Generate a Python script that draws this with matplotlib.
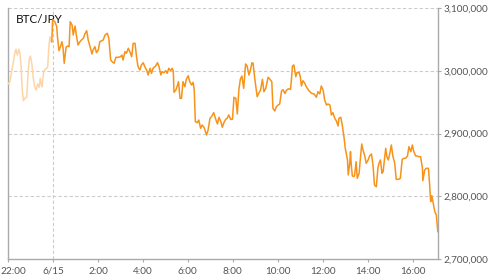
import matplotlib
matplotlib.use("Agg")
import matplotlib.pyplot as plt
import matplotlib.transforms as mtransforms
from matplotlib.ticker import FuncFormatter

# minutes since 6/14 22:00
prev_minutes = [0, 5, 12, 19, 21, 25, 29, 32, 35, 38, 41, 45, 50, 54, 57, 60, 64, 67, 71, 75,
                79, 83, 86, 89, 91, 95, 99, 103, 106, 109, 112, 115, 117]
prev_price = [2978900, 2982600, 3006500, 3030400, 3034200, 3025100, 3034200, 3027800, 3006500,
              2969300, 2952300, 2956100, 2957700, 3001200, 3019800, 3023500, 3009200, 2990500,
              2974600, 2969300, 2978900, 2973600, 2988000, 2977300, 2974600, 2998500, 3002300,
              3003900, 3006500, 3038300, 3054300, 3046300, 3046300]

cur_minutes = [
    117, 119, 125, 130, 132, 136, 140, 144, 147, 150, 155, 159, 163, 166, 171, 174, 179, 183, 187, 192,
    196, 201, 205, 210, 214, 219, 224, 227, 232, 236, 241, 245, 250, 254, 259, 265, 269, 274, 278, 283,
    288, 294, 300, 304, 307, 312, 316, 321, 325, 330, 334, 339, 343, 347, 352, 356, 361, 365, 370, 374,
    379, 383, 387, 394, 399, 403, 408, 411, 416, 421, 425, 429, 434, 438, 441, 443, 448, 451, 455, 459,
    463, 467, 472, 476, 481, 485, 490, 494, 497, 500, 505, 509, 514, 518, 523, 530, 534, 539, 543, 549,
    555, 559, 563, 568, 572, 576, 581, 585, 589, 594, 599, 603, 608, 612, 616, 620, 624, 629, 634, 638,
    643, 647, 651, 654, 659, 665, 669, 674, 679, 683, 688, 694, 699, 704, 707, 712, 716, 721, 725, 730,
    734, 739, 743, 748, 754, 757, 759, 763, 768, 771, 777, 780, 783, 787, 792, 796, 803, 810, 817, 823,
    827, 832, 836, 841, 845, 850, 854, 859, 863, 867, 872, 876, 881, 883, 888, 892, 897, 900, 906, 908,
    912, 914, 916, 919, 923, 925, 929, 932, 937, 940, 944, 947, 952, 956, 961, 965, 970, 974, 978, 983,
    987, 990, 994, 998, 1001, 1005, 1008, 1011, 1015, 1019, 1023, 1027, 1032, 1036, 1042, 1047, 1052, 1057, 1061, 1066,
    1070, 1075, 1079, 1083, 1088, 1092, 1097, 1101, 1106, 1107, 1112, 1116, 1122, 1125, 1128, 1131, 1134, 1139, 1143, 1147]
cur_price = [
    3046300, 3080900, 3078200, 3070200, 3054300, 3032000, 3038300, 3046300, 3035800, 3011900,
    3037400, 3039400, 3038300, 3078200, 3072900, 3057000, 3071300, 3054300, 3041000, 3046300,
    3049000, 3051700, 3058600, 3063800, 3049000, 3038300, 3026700, 3033100, 3038300, 3028800,
    3033100, 3046300, 3047900, 3049000, 3057000, 3059700, 3051700, 3017100, 3014400, 3011900,
    3021400, 3021400, 3022400, 3025100, 3017100, 3030400, 3027800, 3035800, 3030400, 3022400,
    3043700, 3043700, 3022400, 3006500, 3001200, 3009200, 3012800, 3006500, 3001200, 2993200,
    3003900, 2995900, 3003900, 3007600, 3012800, 3006500, 2993200, 2998500, 2996900, 3000100,
    2995900, 3003900, 3000100, 3003900, 3000100, 2965700, 2969300, 2974600, 2982600, 2956100,
    2956100, 2982600, 2974600, 2986400, 2992100, 2982600, 2977300, 2981600, 2969300, 2918800,
    2917200, 2921500, 2908300, 2913500, 2909900, 2897600, 2905600, 2924200, 2926800, 2933200,
    2921500, 2915100, 2925800, 2918800, 2909900, 2917200, 2922600, 2924200, 2929500, 2922600,
    2922600, 2957700, 2956100, 2931100, 2969300, 2986400, 2991600, 2972000, 3010800, 3007600,
    2993200, 3001200, 3012800, 3011900, 2985300, 2958600, 2964100, 2969300, 2986400, 2966600,
    2972000, 2989600, 2986400, 2982600, 2940200, 2935900, 2942700, 2945400, 2947000, 2967700,
    2969800, 2963700, 2968800, 2971200, 2970400, 2990500, 3007600, 3009200, 2990500, 2996900,
    2996900, 2990500, 2975700, 2984100, 2980000, 2974600, 2968200, 2964100, 2963000, 2957700,
    2966600, 2963000, 2975700, 2969300, 2953400, 2945400, 2947000, 2945400, 2929500, 2933200,
    2924200, 2920400, 2912000, 2924200, 2925800, 2913500, 2892400, 2876400, 2857800, 2833900,
    2852500, 2871000, 2849800, 2832300, 2831200, 2833900, 2855100, 2828600, 2836600, 2857800,
    2883300, 2874800, 2864100, 2852500, 2857800, 2864100, 2867300, 2849800, 2817900, 2815200,
    2844500, 2852500, 2857800, 2836600, 2839100, 2860500, 2876400, 2863000, 2857800, 2868500,
    2881700, 2864100, 2852500, 2827000, 2827000, 2828600, 2858900, 2860500, 2860500, 2864100,
    2879000, 2871000, 2881700, 2871000, 2864100, 2864100, 2863000, 2863000, 2844500, 2824800,
    2841800, 2844500, 2844500, 2819500, 2791300, 2800900, 2791300, 2775400, 2770100, 2743500]

tick_minutes = [0, 120, 240, 360, 480, 600, 720, 840, 960, 1080]
tick_labels = ["22:00", "6/15", "2:00", "4:00", "6:00", "8:00", "10:00", "12:00", "14:00", "16:00"]
y_ticks = [2700000, 2800000, 2900000, 3000000, 3100000]
title = "BTC/JPY"

plt.rcParams['font.family'] = ['Lato', 'DejaVu Sans']
fig = plt.figure(figsize=(4.96, 2.79), dpi=100)
ax = fig.add_axes([8/496, 1-259/279, 430/496, 251/279])

ax.plot(prev_minutes, prev_price, color='#fdd5a8', lw=1.1, zorder=3)
ax.plot(cur_minutes, cur_price, color='#f7931a', lw=1.1, zorder=4)

ax.set_xlim(0, 1147.5)
ax.set_ylim(2700000, 3100000)
ax.set_xticks(tick_minutes)
ax.set_xticklabels(tick_labels)
ax.set_yticks(y_ticks)
ax.yaxis.set_major_formatter(FuncFormatter(lambda v, p: f"{int(v):,}"))
ax.yaxis.tick_right()

for v in y_ticks[1:]:
    ax.axhline(v, color='#cccccc', lw=0.8, ls=(0, (3, 2)), zorder=1)
ax.axvline(120, color='#cccccc', lw=0.8, ls=(0, (3, 2)), zorder=1)

ax.spines['top'].set_visible(False)
for s in ['left', 'right', 'bottom']:
    ax.spines[s].set_color('#aaaaaa')
    ax.spines[s].set_linewidth(1.0)

ax.tick_params(axis='both', colors='#aaaaaa', labelcolor='#555555', labelsize=7.2,
               length=2.5, width=0.8, pad=1.5)
ax.tick_params(axis='x', pad=3)

# keep the first x label inside the figure
first = ax.get_xticklabels()[0]
first.set_horizontalalignment('left')
first.set_transform(first.get_transform() +
                    mtransforms.ScaledTranslation(-8/100, 0, fig.dpi_scale_trans))

ax.text(0.018, 0.955, title, transform=ax.transAxes, fontsize=8.5, color='#111111',
        ha='left', va='center')

fig.savefig("out.png", dpi=100)
